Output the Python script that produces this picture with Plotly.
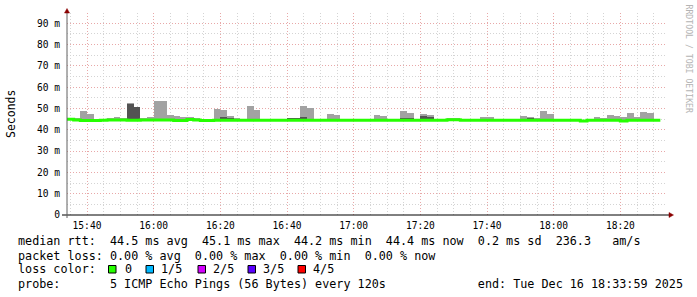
import plotly.graph_objects as go
import pandas as pd

# ---------------- data ----------------
start_time = "2025-12-16 15:34:00"
end_time = "2025-12-16 18:34:00"
step_minutes = 2

# median rtt per 2-minute step (ms)
median = [45.0, 44.6, 44.4, 44.4, 44.4, 44.5, 44.6, 44.6, 44.6, 44.5,
          44.5, 44.6, 44.6, 44.6, 44.6, 44.6, 44.4, 44.4, 44.8, 44.6,
          44.4, 44.4, 44.5, 44.5, 44.5, 44.5, 44.5, 44.5, 44.5, 44.5,
          44.5, 44.5, 44.5, 44.5, 44.5, 44.5, 44.5, 44.5, 44.5, 44.5,
          44.5, 44.5, 44.5, 44.5, 44.5, 44.5, 44.5, 44.5, 44.5, 44.5,
          44.5, 44.5, 44.5, 44.5, 44.5, 44.5, 44.5, 44.7, 44.7, 44.5,
          44.5, 44.5, 44.5, 44.5, 44.5, 44.5, 44.5, 44.5, 44.5, 44.5,
          44.5, 44.5, 44.5, 44.5, 44.5, 44.5, 44.5, 44.1, 44.5, 44.5,
          44.5, 44.5, 44.5, 44.1, 44.5, 44.5, 44.5, 44.5, 44.5]

# fastest ping per step (ms)
ping_min = [44.7, 44.3, 44.1, 44.1, 44.1, 44.2, 44.3, 44.3, 44.3, 44.2,
            44.2, 44.3, 44.3, 44.3, 44.3, 44.3, 44.1, 44.1, 44.5, 44.3,
            44.1, 44.1, 44.2, 44.2, 44.2, 44.2, 44.2, 44.2, 44.2, 44.2,
            44.2, 44.2, 44.2, 44.2, 44.2, 44.2, 44.2, 44.2, 44.2, 44.2,
            44.2, 44.2, 44.2, 44.2, 44.2, 44.2, 44.2, 44.2, 44.2, 44.2,
            44.2, 44.2, 44.2, 44.2, 44.2, 44.2, 44.2, 44.4, 44.4, 44.2,
            44.2, 44.2, 44.2, 44.2, 44.2, 44.2, 44.2, 44.2, 44.2, 44.2,
            44.2, 44.2, 44.2, 44.2, 44.2, 44.2, 44.2, 43.8, 44.2, 44.2,
            44.2, 44.2, 44.2, 43.8, 44.2, 44.2, 44.2, 44.2, 44.2]

# slowest ping per step (ms)
ping_max = [45.3, 45.5, 48.8, 47.4, 44.8, 45.2, 45.6, 46.0, 45.6, 52.4,
            50.7, 45.5, 46.0, 53.5, 53.5, 46.9, 46.5, 46.0, 46.0, 45.5,
            44.7, 45.1, 49.8, 49.3, 46.5, 45.5, 45.1, 51.2, 49.3, 44.8,
            45.1, 45.1, 44.8, 45.1, 45.1, 51.2, 50.2, 45.1, 44.8, 47.4,
            46.9, 44.8, 44.8, 44.8, 44.8, 44.8, 46.9, 46.5, 44.8, 44.8,
            48.8, 47.9, 44.8, 47.4, 46.9, 44.8, 44.8, 45.5, 45.5, 44.8,
            44.8, 44.8, 46.0, 46.0, 44.8, 44.8, 45.1, 45.1, 46.5, 46.0,
            45.5, 48.8, 47.4, 44.8, 44.8, 44.8, 44.8, 44.4, 44.8, 46.0,
            45.5, 46.9, 46.5, 46.0, 47.9, 46.0, 48.4, 47.9, 44.8]

# 2nd fastest / 2nd slowest ping per step (ms) - the dense part of the smoke
inner_lo = [44.8, 44.4, 44.2, 44.2, 44.2, 44.3, 44.4, 44.4, 44.4, 44.3,
            44.3, 44.4, 44.4, 44.4, 44.4, 44.4, 44.2, 44.2, 44.6, 44.4,
            44.2, 44.2, 44.3, 45.1, 45.1, 44.3, 44.3, 44.3, 44.3, 44.3,
            44.3, 44.3, 44.3, 44.6, 44.6, 44.6, 44.3, 44.3, 44.3, 44.3,
            44.3, 44.3, 44.3, 44.3, 44.3, 44.3, 44.3, 44.3, 44.3, 44.3,
            44.6, 44.6, 44.3, 44.6, 44.6, 44.3, 44.3, 44.5, 44.5, 44.3,
            44.3, 44.3, 44.3, 44.3, 44.3, 44.3, 44.3, 44.3, 44.3, 45.1,
            44.3, 44.3, 44.3, 44.3, 44.3, 44.3, 44.3, 43.9, 44.3, 44.3,
            44.3, 44.3, 44.3, 43.9, 44.3, 44.3, 44.3, 44.3, 44.3]
inner_hi = [45.1, 44.7, 44.5, 44.5, 44.5, 44.6, 44.7, 44.7, 44.7, 52.0,
            50.7, 44.7, 44.7, 44.7, 44.7, 44.7, 44.5, 44.5, 44.9, 44.7,
            44.5, 44.5, 44.6, 45.6, 45.4, 44.6, 44.6, 44.6, 44.6, 44.6,
            44.6, 44.6, 44.6, 45.1, 45.1, 46.0, 44.6, 44.6, 44.6, 44.6,
            44.6, 44.6, 44.6, 44.6, 44.6, 44.6, 44.6, 44.6, 44.6, 44.6,
            45.1, 45.1, 44.6, 46.5, 46.0, 44.6, 44.6, 44.8, 44.8, 44.6,
            44.6, 44.6, 44.6, 44.6, 44.6, 44.6, 44.6, 44.6, 44.6, 45.5,
            44.6, 44.6, 44.6, 44.6, 44.6, 44.6, 44.6, 44.2, 44.6, 44.6,
            44.6, 44.6, 44.6, 44.2, 44.6, 44.6, 44.6, 44.6, 44.6]

y_tick_values = [0, 10, 20, 30, 40, 50, 60, 70, 80, 90]
y_tick_labels = ["0", "10 m", "20 m", "30 m", "40 m", "50 m", "60 m", "70 m", "80 m", "90 m"]

loss_labels = ["0", "1/5", "2/5", "3/5", "4/5"]
loss_colors = ["#26ff00", "#00b8ff", "#d400ff", "#5a00ff", "#ff0000"]

legend_line1 = "median rtt:  44.5 ms avg  45.1 ms max  44.2 ms min  44.4 ms now  0.2 ms sd  236.3   am/s"
legend_line2 = "packet loss: 0.00 % avg  0.00 % max  0.00 % min  0.00 % now"
legend_line3 = "loss color:"
legend_line4 = "probe:       5 ICMP Echo Pings (56 Bytes) every 120s             end: Tue Dec 16 18:33:59 2025"

# ---------------- layout geometry (pixels) ----------------
W, H = 697, 297
L, R, T, B = 67, 30, 13, 82
PW, PH = W - L - R, H - T - B
Y_MAX = PH / 2.13


def px(x):
    return (x - L) / PW


def py(y):
    return (T + PH - y) / PH


n = len(median)
starts = pd.date_range(start_time, periods=n, freq=f"{step_minutes}min")
centers = starts + pd.Timedelta(minutes=step_minutes / 2)
edges = list(starts) + [starts[-1] + pd.Timedelta(minutes=step_minutes)]
bar_w = step_minutes * 60 * 1000

MONO = "DejaVu Sans Mono"

fig = go.Figure()
fig.add_trace(go.Bar(
    x=centers, base=ping_min, y=[h - l for h, l in zip(ping_max, ping_min)],
    width=bar_w, marker=dict(color="#a2a2a2", line=dict(width=0)),
    hoverinfo="skip", showlegend=False))
fig.add_trace(go.Bar(
    x=centers, base=inner_lo, y=[h - l for h, l in zip(inner_hi, inner_lo)],
    width=bar_w, marker=dict(color="#535353", line=dict(width=0)),
    hoverinfo="skip", showlegend=False))
fig.add_trace(go.Scatter(
    x=edges, y=median + [median[-1]], mode="lines",
    line=dict(color=loss_colors[0], width=3, shape="hv"),
    hoverinfo="skip", showlegend=False))

grid_major = "#e8a8a8"
grid_minor = "#d4d4d4"

fig.update_layout(
    width=W, height=H,
    margin=dict(l=L, r=R, t=T, b=B, pad=0),
    paper_bgcolor="white", plot_bgcolor="white",
    barmode="overlay", bargap=0,
    font=dict(family=MONO, size=9.6, color="#000000"),
    xaxis=dict(
        type="date", range=[start_time, end_time],
        tick0="2025-12-16 15:40:00", dtick=20 * 60 * 1000, tickformat="%H:%M",
        showgrid=True, gridcolor=grid_major, gridwidth=1, griddash="1px,2px",
        minor=dict(dtick=5 * 60 * 1000, showgrid=True, gridcolor=grid_minor,
                   gridwidth=1, griddash="1px,2px"),
        ticks="", showline=False, zeroline=False,
        ticklabelstandoff=3,
        tickfont=dict(family=MONO, size=9.6, color="#000000"),
    ),
    yaxis=dict(
        range=[0, Y_MAX], tickvals=y_tick_values, ticktext=y_tick_labels,
        showgrid=True, gridcolor=grid_major, gridwidth=1, griddash="1px,2px",
        minor=dict(dtick=5, tick0=0, showgrid=True, gridcolor=grid_minor,
                   gridwidth=1, griddash="1px,2px"),
        ticks="", showline=False, zeroline=False,
        ticklabelstandoff=6,
        tickfont=dict(family=MONO, size=9.6, color="#000000"),
    ),
)

shapes = []
# axes
shapes.append(dict(type="line", xref="paper", yref="paper",
                   x0=px(62), x1=px(670), y0=py(215), y1=py(215),
                   line=dict(color="#000000", width=1)))
shapes.append(dict(type="line", xref="paper", yref="paper",
                   x0=px(67), x1=px(67), y0=py(218), y1=py(12),
                   line=dict(color="#606060", width=1)))
# arrows
shapes.append(dict(type="path", xref="paper", yref="paper",
                   path=f"M {px(64.5)} {py(13)} L {px(69.5)} {py(13)} L {px(67)} {py(8.5)} Z",
                   fillcolor="#8b0000", line=dict(color="#8b0000", width=0.5)))
shapes.append(dict(type="path", xref="paper", yref="paper",
                   path=f"M {px(669)} {py(212.5)} L {px(669)} {py(217.5)} L {px(673.5)} {py(215)} Z",
                   fillcolor="#8b0000", line=dict(color="#8b0000", width=0.5)))

# loss colour boxes
box_x = [108.5, 146, 198, 248, 298]
text_x = [124, 160.3, 212.3, 262.3, 312.3]
for bx, c in zip(box_x, loss_colors):
    shapes.append(dict(type="rect", xref="paper", yref="paper",
                       x0=px(bx), x1=px(bx + 7.5), y0=py(265.5), y1=py(273),
                       fillcolor=c, line=dict(color="#000000", width=1)))
fig.update_layout(shapes=shapes)

LEG_SIZE = 11.75


def nb(s):
    return s.replace(" ", "\u00a0")


annotations = []
for txt, yy in [(legend_line1, 241), (legend_line2, 255.5), (legend_line3, 269), (legend_line4, 283.5)]:
    annotations.append(dict(text=nb(txt), xref="paper", yref="paper", x=px(16.5), y=py(yy),
                            xanchor="left", yanchor="middle", showarrow=False,
                            font=dict(family=MONO, size=LEG_SIZE, color="#000000"), borderpad=0))
for tx, lab in zip(text_x, loss_labels):
    annotations.append(dict(text=lab, xref="paper", yref="paper", x=px(tx), y=py(269),
                            xanchor="left", yanchor="middle", showarrow=False,
                            font=dict(family=MONO, size=LEG_SIZE, color="#000000"), borderpad=0))
annotations.append(dict(text="Seconds", xref="paper", yref="paper", x=px(11), y=py(114),
                        xanchor="center", yanchor="middle", textangle=-90, showarrow=False,
                        font=dict(family=MONO, size=11.5, color="#000000"), borderpad=0))
annotations.append(dict(text=nb("RRDTOOL / TOBI OETIKER"), xref="paper", yref="paper",
                        x=px(688.5), y=py(59), xanchor="center", yanchor="middle",
                        textangle=90, showarrow=False,
                        font=dict(family=MONO, size=8.2, color="#b4b4b4"), borderpad=0))
fig.update_layout(annotations=annotations)

fig.write_html("out.html", config={"displayModeBar": False})
